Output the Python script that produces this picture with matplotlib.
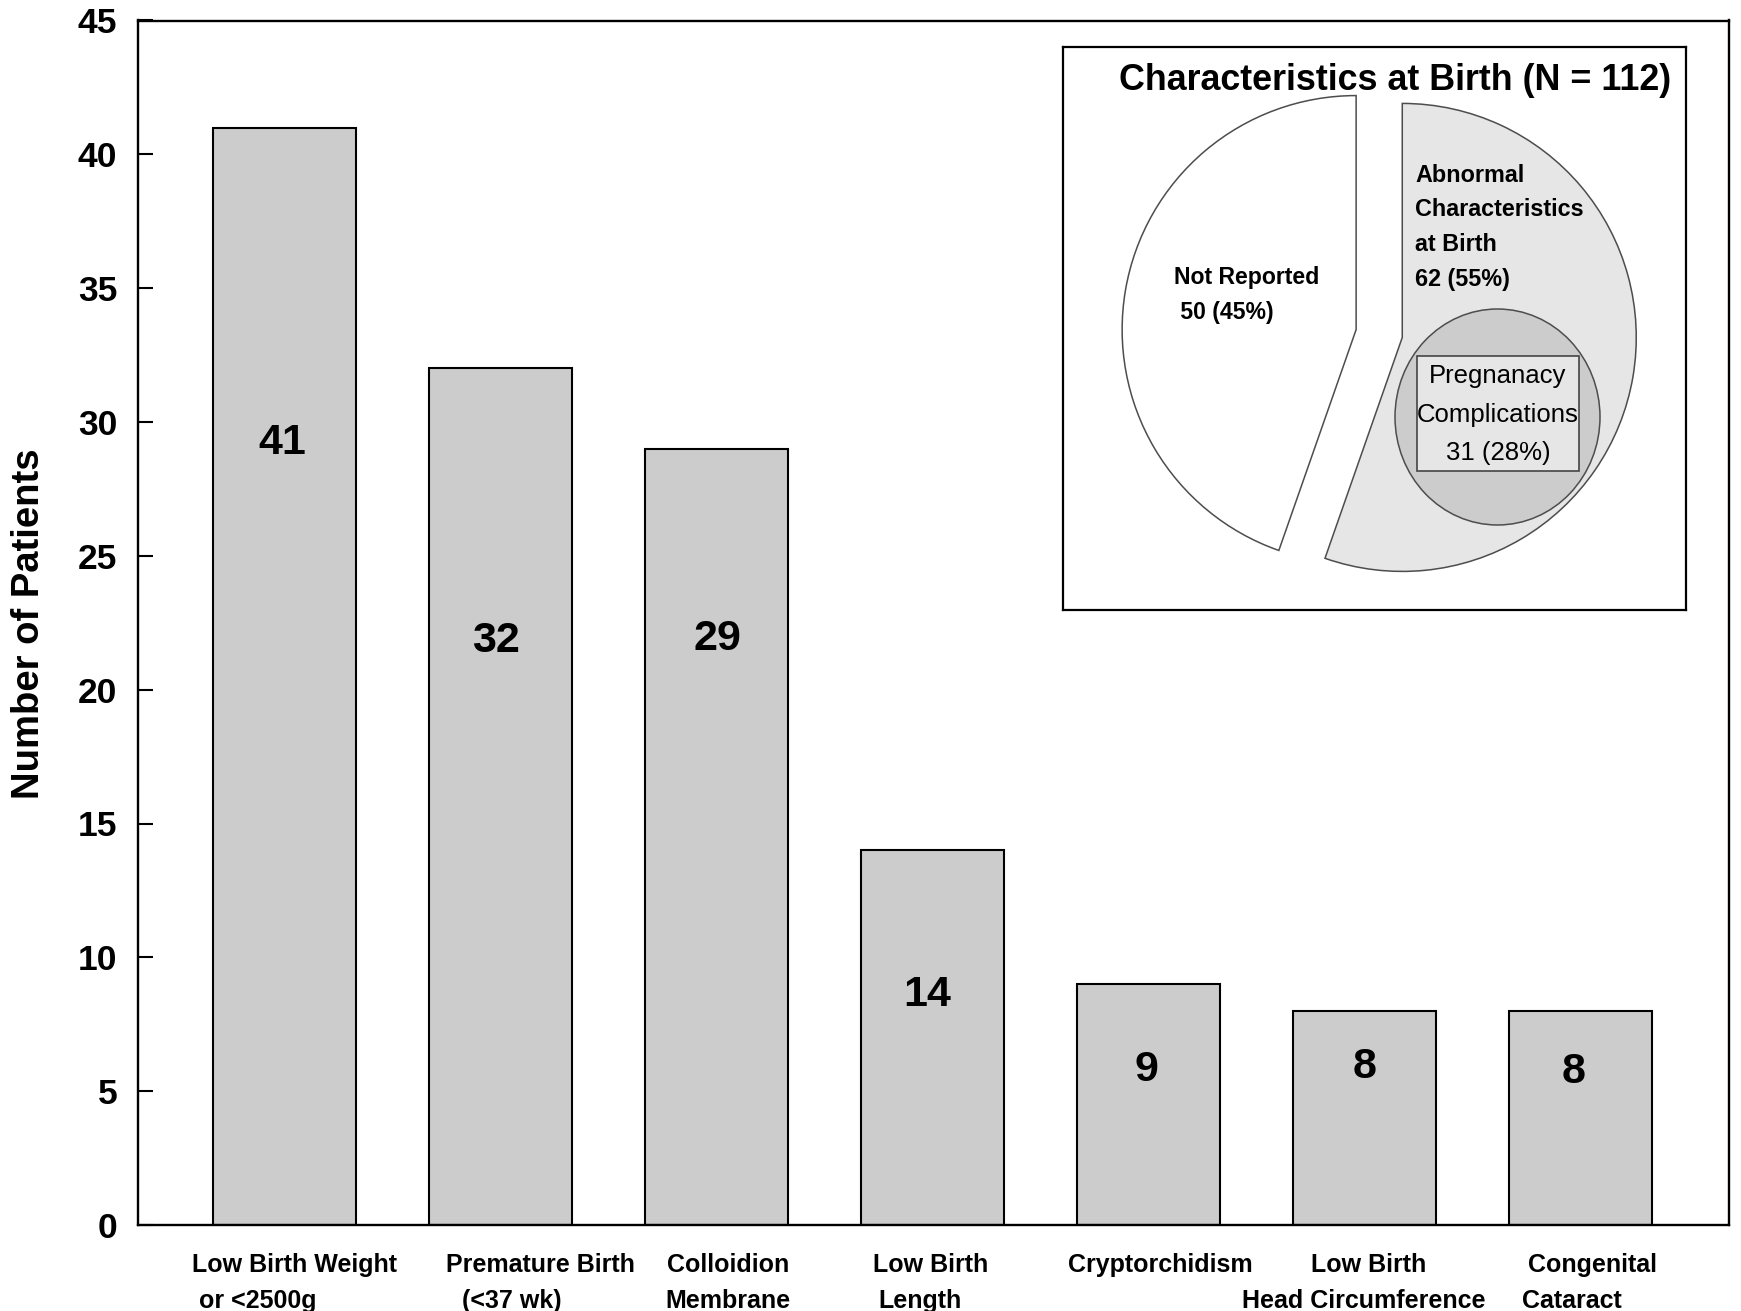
import matplotlib
matplotlib.use("Agg")
import matplotlib.pyplot as plt
from matplotlib.patches import Ellipse, Rectangle
from matplotlib.transforms import blended_transform_factory

# ---- data -------------------------------------------------------------
categories = [
    ("Low Birth Weight", " or <2500g"),
    ("Premature Birth", "  (<37 wk)"),
    ("Colloidion", "Membrane"),
    ("Low Birth", "Length"),
    ("Cryptorchidism", ""),
    ("Low Birth", "Head Circumference"),
    ("Congenital", "Cataract"),
]
counts = [41, 32, 29, 14, 9, 8, 8]

pie_labels = ["Not Reported", "Abnormal\nCharacteristics\nat Birth"]
pie_counts = [50, 62]
subgroup_label = "Pregnanacy\nComplications"
subgroup_count = 31

y_ticks = [0, 5, 10, 15, 20, 25, 30, 35, 40, 45]

# ---- layout / style -----------------------------------------------------
label_heights = [29.2, 21.8, 21.9, 8.6, 5.8, 5.9, 5.7]      # y of the count text
label_shift = [-0.013, -0.021, 0.002, -0.026, -0.009, -0.001, -0.035]
line1_shift = [0.046, 0.182, 0.051, -0.011, 0.053, 0.019, 0.055]
line2_shift = [-0.124, 0.051, 0.051, -0.060, 0.0, -0.004, -0.040]

plt.rcParams["font.family"] = ["Liberation Sans", "DejaVu Sans"]
NARROW = ["Liberation Sans Narrow", "Liberation Sans", "DejaVu Sans"]

BAR_GREY = "#cccccc"
LIGHT_GREY = "#e6e6e6"
EDGE_GREY = "#4d4d4d"

fig = plt.figure(figsize=(17.41, 13.11), dpi=100, facecolor="white")
ax = fig.add_axes([138 / 1741, 1 - 1225 / 1311, (1729 - 138) / 1741, (1225 - 20.5) / 1311])

x = list(range(len(counts)))
ax.bar(x, counts, width=0.662, color=BAR_GREY, edgecolor="black", linewidth=1.5, zorder=2)

ax.set_xlim(-0.680, 6.686)
ax.set_ylim(0, 45)
ax.set_yticks(y_ticks)
ax.set_yticklabels([str(t) for t in y_ticks], fontsize=25.5, fontweight="bold")
ax.tick_params(axis="y", direction="in", length=11, width=1.5, pad=15)
ax.set_xticks([])
for sp in ax.spines.values():
    sp.set_linewidth(1.7)

# count labels inside the bars
for i, (v, h) in enumerate(zip(counts, label_heights)):
    ax.text(i + label_shift[i], h, str(v), ha="center", va="center",
            fontsize=31, fontweight="bold", family=NARROW, zorder=3)

# two-line category labels under the axis
trans = blended_transform_factory(ax.transData, ax.transAxes)
for i, (l1, l2) in enumerate(categories):
    ax.text(i + line1_shift[i], -0.039, l1, transform=trans, ha="center",
            va="baseline", fontsize=18, fontweight="bold")
    if l2:
        ax.text(i + line2_shift[i], -0.0689, l2.strip(), transform=trans, ha="center",
                va="baseline", fontsize=18, fontweight="bold")

fig.text(29 / 1741, 1 - 624 / 1311, "Number of Patients", rotation=90,
         ha="center", va="center", fontsize=27.5, fontweight="bold")

# ---- inset: characteristics at birth -----------------------------------
W, H = 1686 - 1063, 610 - 47
ins = fig.add_axes([1063 / 1741, 1 - 610 / 1311, W / 1741, H / 1311])
total = sum(pie_counts)

pie_radius = 234
ins.pie(pie_counts, colors=["white", LIGHT_GREY], startangle=90, counterclock=True,
        explode=[0.1 * pie_radius, 0.1 * pie_radius], radius=pie_radius,
        center=(316.2, 276.5),
        wedgeprops=dict(edgecolor=EDGE_GREY, linewidth=1.1))
ins.set_xlim(0, W)
ins.set_ylim(0, H)
ins.set_frame_on(True)
for sp in ins.spines.values():
    sp.set_linewidth(1.6)
    sp.set_color("black")
ins.set_xticks([])
ins.set_yticks([])

ins.add_patch(Ellipse((434.5, 193), 205, 216, facecolor=BAR_GREY,
                      edgecolor=EDGE_GREY, linewidth=1.1, zorder=3))
ins.add_patch(Rectangle((353.7, 139), 162.6, 115.3, facecolor=LIGHT_GREY,
                        edgecolor="#444444", linewidth=1.2, zorder=4))

ins.text(332, 520, f"Characteristics at Birth (N = {total})", ha="center",
         va="baseline", fontsize=25.8, fontweight="bold", zorder=5)


def draw_lines(x0, y0, lines, step, **kw):
    for k, s in enumerate(lines):
        ins.text(x0, y0 - k * step, s, va="center", zorder=5, **kw)


nr_lines = [pie_labels[0], f" {pie_counts[0]} ({pie_counts[0] / total:.0%})"]
draw_lines(111, 333, nr_lines, 35, ha="left", fontsize=16.6, fontweight="bold")

ab_lines = pie_labels[1].split("\n") + [f"{pie_counts[1]} ({pie_counts[1] / total:.0%})"]
draw_lines(352, 435, ab_lines, 34.7, ha="left", fontsize=16.8, fontweight="bold")

pc_lines = subgroup_label.split("\n") + [f"{subgroup_count} ({subgroup_count / total:.0%})"]
draw_lines(435, 234, pc_lines, 38.5, ha="center", fontsize=18.5)

fig.savefig("out.png", dpi=100, facecolor="white")
